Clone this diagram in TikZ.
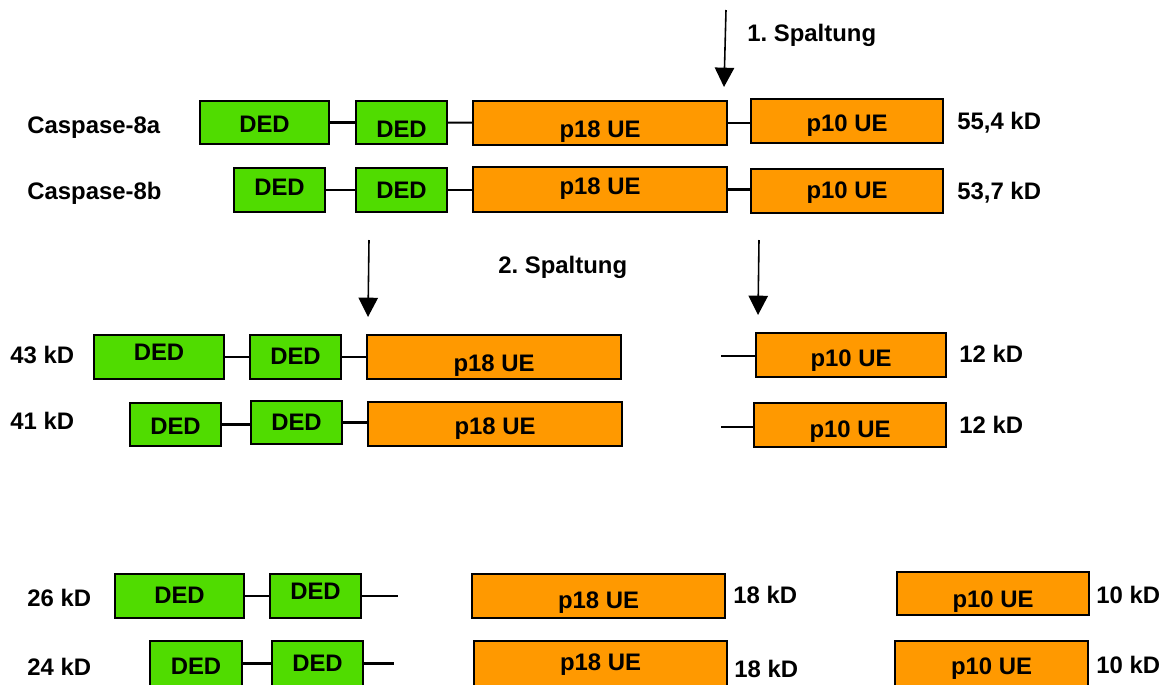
\documentclass[tikz,border=0pt]{standalone}
\usepackage{fontspec}
\setmainfont{Liberation Sans}
\usetikzlibrary{arrows.meta, fit}
\definecolor{dedgreen}{RGB}{80,220,0}
\definecolor{ueorange}{RGB}{255,153,0}
\newdimen\pxu \pxu=0.02cm
\frenchspacing

\begin{document}
\begin{tikzpicture}[x=0.02cm, y=-0.02cm,
		dom/.style={draw=black, line width=1.4pt, inner sep=0pt},
		txt/.style 2 args={label={[inner sep=0pt, yshift={-(#1)*\pxu}, font=\fontsize{13.6}{16}\selectfont\bfseries]center:#2}},
		ded/.style={dom, fill=dedgreen, txt={#1-8.7}{DED}},
		ue/.style 2 args={dom, fill=ueorange, txt={#1-6.2}{#2}},
		link/.style={line width=1.2pt},
		cut/.style={line width=0.9pt, -{Triangle[width=11pt, length=11pt]}},
		kd/.style={font=\fontsize{13.6}{16}\selectfont\bfseries, anchor=base west, inner sep=0pt}
	]
	\useasboundingbox (0,0) rectangle (1170,684);
	\clip (0,0) rectangle (1170,684);

	% Caspase-8a
	\node[kd] (na) at (27,133) {Caspase-8a};
	\node[ded=10.5, fit={(200,101) (329,144)}] (a1) {};
	\node[ded=15.5, fit={(356,101) (447,144)}] (a2) {};
	\node[ue={15}{p18 UE}, fit={(473,101) (727,145)}] (a3) {};
	\node[ue={11}{p10 UE}, fit={(751,99) (943,143)}] (a4) {};
	\node[kd] (ma) at (957,129) {55,4 kD};
	\draw[link] (a1) -- (a2);
	\draw[link] (a2) -- (a3);
	\draw[link] (a3.east) -- (a3.east -| a4.west);

	% Caspase-8b
	\node[kd] (nb) at (27,199) {Caspase-8b};
	\node[ded=6, fit={(234,168) (325,212)}] (b1) {};
	\node[ded=9, fit={(356,168) (447,212)}] (b2) {};
	\node[ue={5.5}{p18 UE}, fit={(473,167) (727,212)}] (b3) {};
	\node[ue={8}{p10 UE}, fit={(751,169) (943,213)}] (b4) {};
	\node[kd] (mb) at (957,199) {53,7 kD};
	\draw[link] (b1) -- (b2);
	\draw[link] (b2.east) -- (b2.east -| b3.west);
	\draw[link] (b3.east) -- (b3.east -| b4.west);

	% 1. Spaltung
	\coordinate (s1) at (726,10);
	\coordinate (t1) at (724,87);
	\draw[cut] (s1) -- (t1);
	\node[kd] (sp1) at (747,41) {1. Spaltung};

	% 2. Spaltung
	\coordinate (s2) at (369,240);
	\coordinate (t2) at (368,317);
	\coordinate (s3) at (759,240);
	\coordinate (t3) at (758,315);
	\draw[cut] (s2) -- (t2);
	\draw[cut] (s3) -- (t3);
	\node[kd] (sp2) at (498,273) {2. Spaltung};

	% 43 kD
	\node[kd] (nc) at (10,363) {43 kD};
	\node[ded=4, fit={(94,335) (224,379)}] (c1) {};
	\node[ded=8, fit={(250,335) (341,379)}] (c2) {};
	\node[ue={15}{p18 UE}, fit={(367,335) (621,379)}] (c3) {};
	\coordinate (c0) at (721,356);
	\node[ue={12}{p10 UE}, fit={(756,333) (946,377)}] (c4) {};
	\node[kd] (mc) at (959,362) {12 kD};
	\draw[link] (c1) -- (c2);
	\draw[link] (c2) -- (c3);
	\draw[link] (c0) -- (c0 -| c4.west);

	% 41 kD
	\node[kd] (nd) at (10,429) {41 kD};
	\node[ded=10.5, fit={(130,403) (221,446)}] (d1) {};
	\node[ded=8.5, fit={(251,401) (342,444)}] (d2) {};
	\node[ue={11}{p18 UE}, fit={(368,402) (622,446)}] (d3) {};
	\coordinate (d0) at (721,427);
	\node[ue={13}{p10 UE}, fit={(754,403) (946,447)}] (d4) {};
	\node[kd] (md) at (959,433) {12 kD};
	\draw[link] (d1.east) -- (d1.east -| d2.west);
	\draw[link] (d2.east) -- (d2.east -| d3.west);
	\draw[link] (d0) -- (d0 -| d4.west);

	% 26 kD
	\node[kd] (ne) at (27,606) {26 kD};
	\node[ded=8, fit={(115,574) (244,618)}] (e1) {};
	\node[ded=4, fit={(270,574) (361,618)}] (e2) {};
	\coordinate (e0) at (398,596);
	\node[ue={13}{p18 UE}, fit={(472,574) (725,618)}] (e3) {};
	\node[kd] (me) at (733,603) {18 kD};
	\node[ue={14.5}{p10 UE}, fit={(897,572) (1089,615)}] (e4) {};
	\node[kd] (mee) at (1096,603) {10 kD};
	\draw[link] (e1) -- (e2);
	\draw[link] (e2) -- (e0);

	% 24 kD
	\node[kd] (nf) at (27,675) {24 kD};
	\node[ded=11.5, fit={(150,641) (242,686)}] (f1) {};
	\node[ded=8.5, fit={(272,641) (363,686)}] (f2) {};
	\coordinate (f0) at (394,664);
	\node[ue={7.5}{p18 UE}, fit={(474,641) (727,686)}] (f3) {};
	\node[kd] (mf) at (734,677) {18 kD};
	\node[ue={11.5}{p10 UE}, fit={(895,641) (1088,686)}] (f4) {};
	\node[kd] (mff) at (1096,673) {10 kD};
	\draw[link] (f1) -- (f2);
	\draw[link] (f2.east) -- (f2.east -| f0);
\end{tikzpicture}
\end{document}
